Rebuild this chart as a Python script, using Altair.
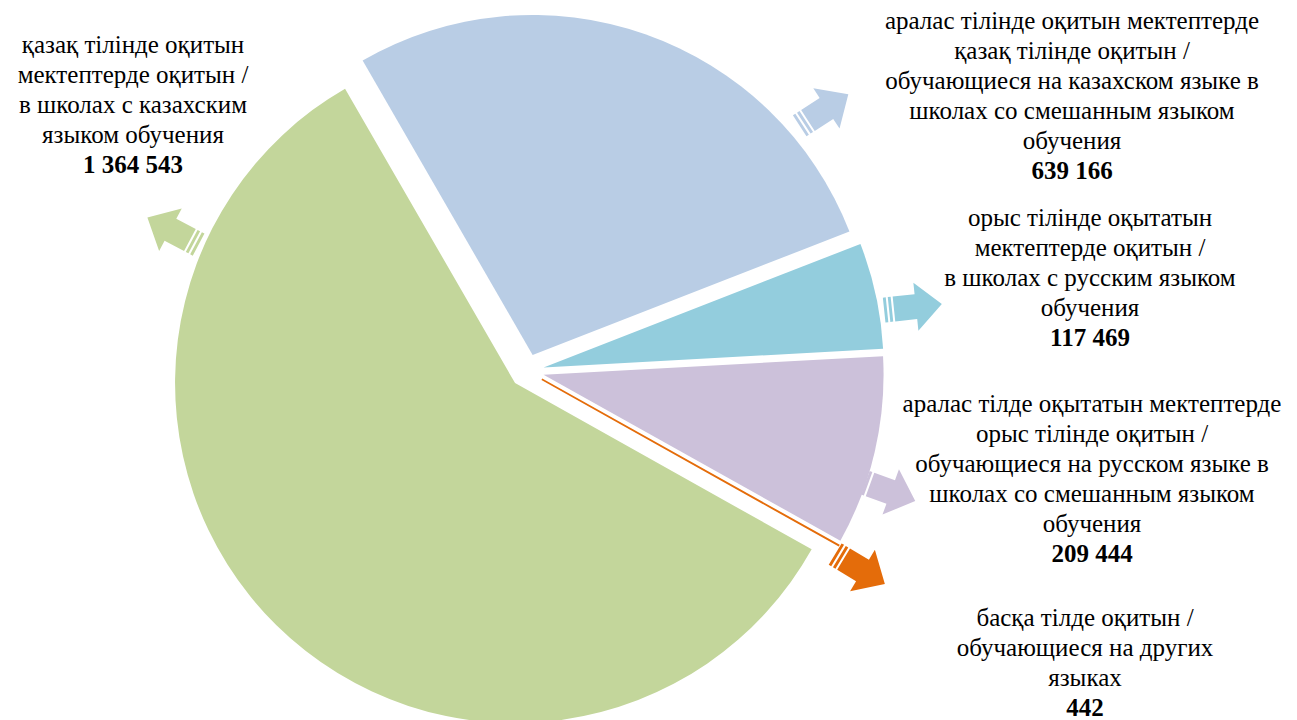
import math
import altair as alt
import pandas as pd

# ---------------- data ----------------
categories = ["blue", "teal", "purple", "orange", "green"]
values = [639166, 117469, 209444, 442, 1364543]
label_lines = [
    ["аралас тілінде оқитын мектептерде", "қазақ тілінде оқитын /",
     "обучающиеся на казахском языке в", "школах со смешанным языком", "обучения"],
    ["орыс тілінде оқытатын", "мектептерде оқитын /",
     "в школах с русским языком", "обучения"],
    ["аралас тілде оқытатын мектептерде", "орыс тілінде оқитын /",
     "обучающиеся на русском языке в", "школах со смешанным языком", "обучения"],
    ["басқа тілде оқитын /", "обучающиеся на других", "языках"],
    ["қазақ тілінде оқитын", "мектептерде оқитын /",
     "в школах с казахским", "языком обучения"],
]

# ---------------- style / layout ----------------
colors = ["#B9CDE5", "#93CDDD", "#CCC1DA", "#E46C0A", "#C3D69B"]
CX, CY, R, EXPLODE = 519, 363, 340, 17
START = -math.pi / 6
FONT = "Liberation Serif"
FS = 25
LH = 30
label_anchor = [(1064, 13), (1082, 210), (1084, 396), (1077, 610), (125, 37)]
arrow_layout = [(816, 102, 327), (905, 299, 354), (880, 483, 20), (852, 561, 31), (165, 223, 208)]
ARROW = ("M -1 -0.43 L -0.9 -0.43 L -0.9 0.43 L -1 0.43 Z "
         "M -0.83 -0.43 L -0.73 -0.43 L -0.73 0.43 L -0.83 0.43 Z "
         "M -0.66 -0.43 L 0.1 -0.43 L 0.1 -0.83 L 1 0 L 0.1 0.83 L 0.1 0.43 L -0.66 0.43 Z")

color_scale = alt.Scale(domain=categories, range=colors)

pie_df = pd.DataFrame({"cat": categories, "value": values, "order": list(range(len(values)))})

pie = (
    alt.Chart(pie_df)
    .transform_joinaggregate(total="sum(value)")
    .transform_window(cum="sum(value)", sort=[alt.SortField("order")], frame=[None, 0])
    .transform_calculate(
        mid=f"{START} + 2*PI*(datum.cum - datum.value/2)/datum.total",
    )
    .transform_calculate(
        cx=f"{CX} + {EXPLODE}*sin(datum.mid)",
        cy=f"{CY} - {EXPLODE}*cos(datum.mid)",
    )
    .mark_arc(radius=R, stroke="#E46C0A")
    .encode(
        theta=alt.Theta("value:Q", stack=True,
                        scale=alt.Scale(range=[START, START + 2 * math.pi])),
        order=alt.Order("order:Q"),
        x=alt.X("cx:Q", scale=None),
        y=alt.Y("cy:Q", scale=None),
        color=alt.Color("cat:N", scale=color_scale, legend=None),
        strokeWidth=alt.condition(alt.datum.cat == "orange", alt.value(1.6), alt.value(0)),
    )
)

arrow_df = pd.DataFrame({
    "cat": categories,
    "ax": [a[0] for a in arrow_layout],
    "ay": [a[1] for a in arrow_layout],
    "ang": [a[2] for a in arrow_layout],
})
arrows = (
    alt.Chart(arrow_df)
    .mark_point(shape=ARROW, filled=True, size=58 * 58, opacity=1, strokeWidth=0)
    .encode(
        x=alt.X("ax:Q", scale=None),
        y=alt.Y("ay:Q", scale=None),
        angle=alt.Angle("ang:Q", scale=None),
        color=alt.Color("cat:N", scale=color_scale, legend=None),
    )
)

normal_rows, bold_rows = [], []
for i, lines in enumerate(label_lines):
    x0, y0 = label_anchor[i]
    for j, t in enumerate(lines):
        normal_rows.append({"tx": x0, "ty": y0 + j * LH, "label": t})
    bold_rows.append({"tx": x0, "ty": y0 + len(lines) * LH,
                      "label": f"{values[i]:,}".replace(",", " ")})

text_normal = (
    alt.Chart(pd.DataFrame(normal_rows))
    .mark_text(font=FONT, fontSize=FS, color="black", align="center", baseline="middle")
    .encode(x=alt.X("tx:Q", scale=None), y=alt.Y("ty:Q", scale=None), text="label:N")
)
text_bold = (
    alt.Chart(pd.DataFrame(bold_rows))
    .mark_text(font=FONT, fontSize=FS, fontWeight="bold", color="black",
               align="center", baseline="middle")
    .encode(x=alt.X("tx:Q", scale=None), y=alt.Y("ty:Q", scale=None), text="label:N")
)

chart = (
    alt.layer(arrows, pie, text_normal, text_bold)
    .properties(width=1281, height=712, padding=0, autosize="none")
    .configure_view(strokeWidth=0)
)

chart.save("out.html", embed_options={"renderer": "svg", "actions": False})
